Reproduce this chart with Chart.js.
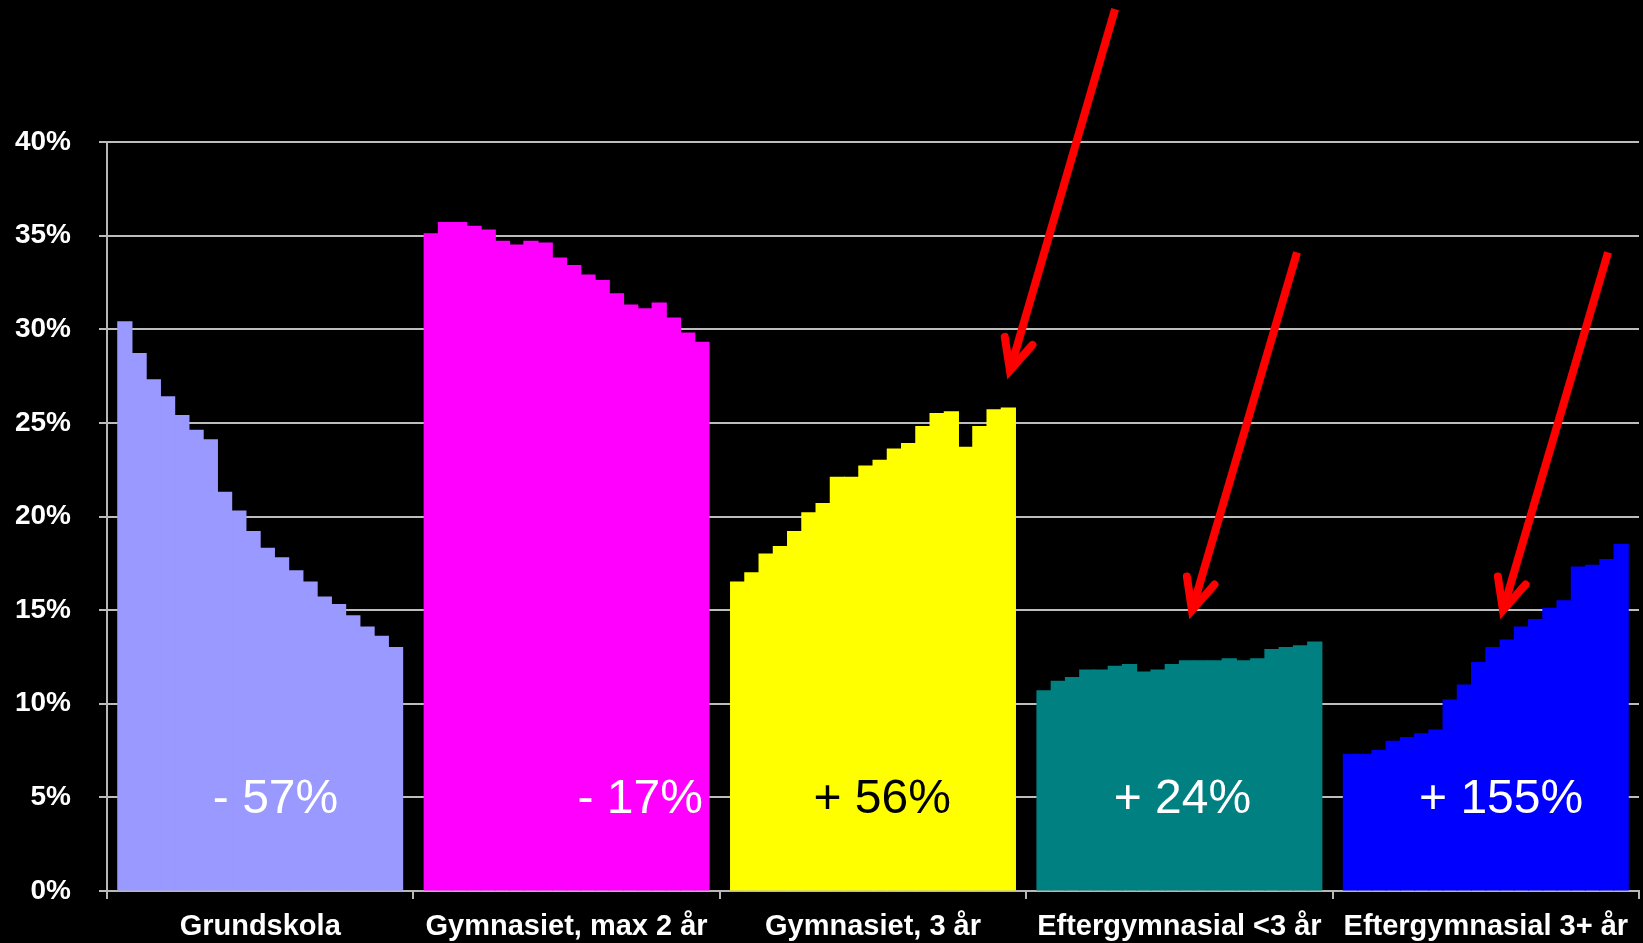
<!DOCTYPE html>
<html>
<head>
<meta charset="utf-8">
<script src="https://cdn.jsdelivr.net/npm/chart.js@4"></script>
<style>
  html, body { margin: 0; padding: 0; background: #000; }
  #wrap { width: 1643px; height: 943px; }
</style>
</head>
<body>
<div id="wrap"><canvas id="eduChart" width="1643" height="943"></canvas></div>
<script>
// education levels on the x axis
const categories = ['Grundskola', 'Gymnasiet, max 2 år', 'Gymnasiet, 3 år', 'Eftergymnasial <3 år', 'Eftergymnasial 3+ år'];

// share of the population per year (20 years), one array per level, in %
const grundskola = [30.4, 28.7, 27.3, 26.4, 25.4, 24.6, 24.1, 21.3, 20.3, 19.2, 18.3, 17.8, 17.1, 16.5, 15.7, 15.3, 14.7, 14.1, 13.6, 13.0];
const gymnasietMax2 = [35.1, 35.7, 35.7, 35.5, 35.3, 34.7, 34.5, 34.7, 34.6, 33.8, 33.4, 32.9, 32.6, 31.9, 31.3, 31.1, 31.4, 30.6, 29.8, 29.3];
const gymnasiet3 = [16.5, 17.0, 18.0, 18.4, 19.2, 20.2, 20.7, 22.1, 22.1, 22.7, 23.0, 23.6, 23.9, 24.8, 25.5, 25.6, 23.7, 24.8, 25.7, 25.8];
const eftergymnasialUnder3 = [10.7, 11.2, 11.4, 11.8, 11.8, 12.0, 12.1, 11.7, 11.8, 12.1, 12.3, 12.3, 12.3, 12.4, 12.3, 12.4, 12.9, 13.0, 13.1, 13.3];
const eftergymnasial3plus = [7.3, 7.3, 7.5, 8.0, 8.2, 8.4, 8.6, 10.2, 11.0, 12.2, 13.0, 13.4, 14.1, 14.5, 15.1, 15.5, 17.3, 17.4, 17.7, 18.5];

// change over the period, written inside each group
const changeLabels = ['- 57%', '- 17%', '+ 56%', '+ 24%', '+ 155%'];

const groups = [grundskola, gymnasietMax2, gymnasiet3, eftergymnasialUnder3, eftergymnasial3plus];
const barColors = ['#9999FF', '#FF00FF', '#FFFF00', '#008080', '#0000FF'];
const changeColors = ['#fff', '#fff', '#000', '#fff', '#fff'];
// label anchors (fractional category index, value)
const changeX = [0.05, 1.24, 2.03, 3.01, 4.05];
const changeY = 4.15;
// red arrows: tail -> tip, in (category index, value)
const arrows = [
    { from: [2.79, 47.1], to: [2.447, 27.8] },
    { from: [3.384, 34.1], to: [3.041, 15.0] },
    { from: [4.399, 34.1], to: [4.056, 15.0] }
];

const nYears = grundskola.length;
const datasets = [];
for (let j = 0; j < nYears; j++) {
    datasets.push({
        label: 'År ' + (j + 1),
        data: groups.map(g => g[j]),
        backgroundColor: barColors,
        borderWidth: 0,
        inflateAmount: 0.5
    });
}

const annotations = {
    id: 'annotations',
    afterDatasetsDraw(chart) {
        const ctx = chart.ctx;
        const x = chart.scales.x, y = chart.scales.y;
        ctx.save();
        ctx.font = '48px "Liberation Sans", Arial, sans-serif';
        ctx.textAlign = 'center';
        ctx.textBaseline = 'alphabetic';
        changeLabels.forEach((t, i) => {
            ctx.fillStyle = changeColors[i];
            ctx.fillText(t, x.getPixelForValue(changeX[i]), y.getPixelForValue(changeY));
        });
        ctx.restore();
    },
    afterDraw(chart) {
        const ctx = chart.ctx;
        const x = chart.scales.x, y = chart.scales.y;
        ctx.save();
        ctx.strokeStyle = '#FF0000';
        ctx.lineWidth = 8;
        arrows.forEach(a => {
            const x0 = x.getPixelForValue(a.from[0]), y0 = y.getPixelForValue(a.from[1]);
            const x1 = x.getPixelForValue(a.to[0]), y1 = y.getPixelForValue(a.to[1]);
            const ang = Math.atan2(y0 - y1, x0 - x1);
            ctx.lineCap = 'butt';
            ctx.beginPath();
            ctx.moveTo(x0, y0);
            ctx.lineTo(x1 + Math.cos(ang) * 6, y1 + Math.sin(ang) * 6);
            ctx.stroke();
            const head = 34, spread = 25 * Math.PI / 180;
            ctx.lineCap = 'round';
            ctx.lineJoin = 'miter';
            ctx.beginPath();
            ctx.moveTo(x1 + Math.cos(ang - spread) * head, y1 + Math.sin(ang - spread) * head);
            ctx.lineTo(x1, y1);
            ctx.lineTo(x1 + Math.cos(ang + spread) * head, y1 + Math.sin(ang + spread) * head);
            ctx.stroke();
        });
        ctx.restore();
    }
};

new Chart(document.getElementById('eduChart').getContext('2d'), {
    type: 'bar',
    data: { labels: categories, datasets: datasets },
    options: {
        responsive: false,
        animation: false,
        layout: { padding: { top: 142, right: 4, left: 0, bottom: 0 } },
        datasets: { bar: { categoryPercentage: 0.93, barPercentage: 1.0 } },
        plugins: { legend: { display: false }, tooltip: { enabled: false } },
        scales: {
            x: {
                afterFit(scale) { scale.height = 52; },
                grid: { drawOnChartArea: false, drawTicks: true, tickLength: 8, color: '#b8b8b8', lineWidth: 2 },
                border: { display: true, color: '#b8b8b8', width: 2 },
                ticks: {
                    color: '#fff',
                    autoSkip: false,
                    maxRotation: 0,
                    padding: 11,
                    font: { family: '"Liberation Sans", Arial, sans-serif', size: 29, weight: 'bold' }
                }
            },
            y: {
                min: 0,
                max: 40,
                afterFit(scale) { scale.width = 107; },
                grid: { color: '#bdbdbd', lineWidth: 2, tickLength: 8 },
                border: { display: true, color: '#b8b8b8', width: 2 },
                ticks: {
                    stepSize: 5,
                    color: '#fff',
                    padding: 28,
                    callback: v => v + '%',
                    font: { family: '"Liberation Sans", Arial, sans-serif', size: 28, weight: 'bold' }
                }
            }
        }
    },
    plugins: [annotations]
});
</script>
</body>
</html>
